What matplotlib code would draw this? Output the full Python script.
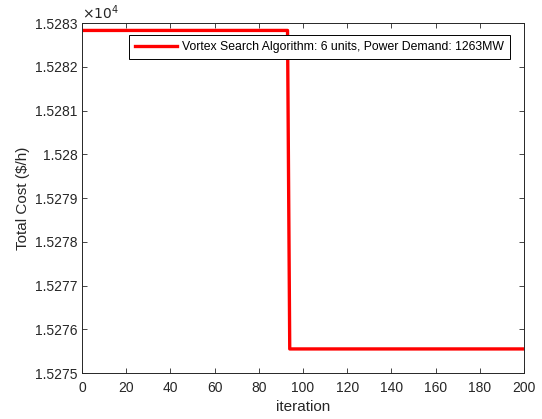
import numpy as np
import matplotlib.pyplot as plt
from matplotlib.ticker import FuncFormatter

# convergence curve (best total cost per iteration)
iteration = np.arange(0, 201)
cost = [15282.83] * 94 + [15275.55] * 107
x_ticks = [0, 20, 40, 60, 80, 100, 120, 140, 160, 180, 200]
y_ticks = [15275, 15276, 15277, 15278, 15279, 15280, 15281, 15282, 15283]
label = 'Vortex Search Algorithm: 6 units, Power Demand: 1263MW'

plt.rcParams['font.family'] = ['Liberation Sans', 'DejaVu Sans']
grey = '#262626'

fig = plt.figure(figsize=(5.42, 4.19), dpi=100)
ax = fig.add_axes([82 / 542, 1 - 373 / 419, 442 / 542, 350 / 419])

ax.plot(iteration, cost, color='red', linewidth=2.4, label=label)

ax.set_xlim(0, 200)
ax.set_ylim(15275, 15283)
ax.set_xticks(x_ticks)
ax.set_yticks(y_ticks)
ax.yaxis.set_major_formatter(FuncFormatter(lambda v, p: '%g' % round(v / 1e4, 4)))

ax.tick_params(direction='in', top=True, right=True, length=3.5, width=0.6,
               labelsize=10, colors=grey, pad=3)
ax.tick_params(axis='x', pad=6)
for s in ax.spines.values():
    s.set_linewidth(0.7)
    s.set_color(grey)

ax.text(0, 1.003, r'$\times10^{4}$', transform=ax.transAxes, fontsize=10,
        color=grey, ha='left', va='bottom')

ax.set_xlabel('iteration', fontsize=11, color=grey, labelpad=3)
ax.set_ylabel('Total Cost (\\$/h)', fontsize=11, color=grey, labelpad=4)

leg = ax.legend(loc='upper right', bbox_to_anchor=(0.968, 0.966), fontsize=8.8,
                fancybox=False, framealpha=1, edgecolor='black',
                handlelength=3.5, borderpad=0.5, handletextpad=0.35, borderaxespad=0)
leg.get_frame().set_linewidth(0.7)

fig.savefig('out.png', dpi=100)
